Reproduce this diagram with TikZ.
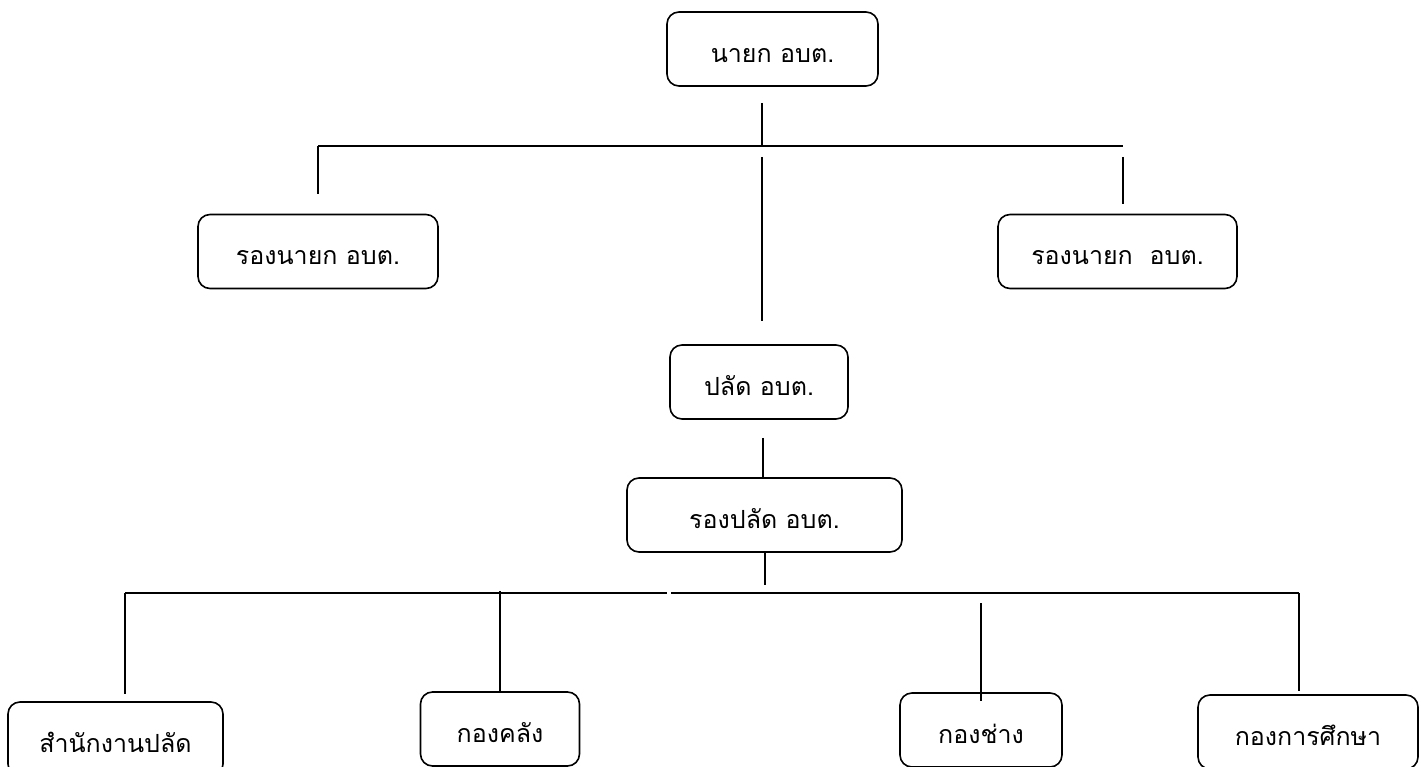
\documentclass[tikz,border=0pt]{standalone}
\usepackage{fontspec}
\newfontfamily\thaifont[Script=Thai]{Loma}
\usetikzlibrary{positioning}

\begin{document}
\begin{tikzpicture}[x=1pt,y=-1pt,line width=1.6pt,font=\thaifont\fontsize{25}{29}\selectfont]
    \tikzstyle{unit}=[draw,rounded corners=12pt,minimum height=74pt,inner sep=0pt,text height=27pt,text depth=0pt]
    \useasboundingbox (0,0) rectangle (1421,767);

    \node[unit,minimum width=211pt] (nayok)     at (772.5,49)   {นายก อบต.};
    \node[unit,minimum width=240pt] (rongnayok) at (318,251.5)  {รองนายก อบต.};
    \node[unit,minimum width=239pt] (rongnayokb) at (1117.5,251.5) {รองนายก~~อบต.};
    \node[unit,minimum width=178pt] (palad)     at (759,382)    {ปลัด อบต.};
    \node[unit,minimum width=275pt] (rongpalad) at (764.5,515)  {รองปลัด อบต.};
    \node[unit,minimum width=215pt] (samnak)    at (115.5,739)  {สำนักงานปลัด};
    \node[unit,minimum width=159pt] (khlang)    at (500,729)    {กองคลัง};
    \node[unit,minimum width=162pt] (chang)     at (981,730)    {กองช่าง};
    \node[unit,minimum width=220pt] (suksa)     at (1308,732)   {กองการศึกษา};

    \coordinate (topbus)  at (762,146);
    \coordinate (topbusl) at (318,146);
    \coordinate (topbusr) at (1123,146);
    \coordinate (midbus)  at (763,478);
    \coordinate (lowbus)  at (765,593);
    \coordinate (lowbusl) at (125,593);
    \coordinate (lowbusr) at (1299,593);
    \coordinate (gapl)    at (667,593);
    \coordinate (gapr)    at (671,593);

    \draw[shorten <=16pt] (nayok.south -| topbus) -- (topbus);
    \draw (topbusl) -- (topbusr);
    \draw[shorten >=20pt] (topbusl) -- (rongnayok.north -| topbusl);
    \draw[shorten <=11pt,shorten >=10pt] (topbusr) -- (rongnayokb.north -| topbusr);
    \draw[shorten <=11pt,shorten >=23pt] (topbus) -- (palad.north -| topbus);
    \draw[shorten <=18pt] (palad.south -| midbus) -- (rongpalad.north -| midbus);
    \draw[shorten >=8pt] (rongpalad.south -| lowbus) -- (lowbus);
    \draw (lowbusl) -- (gapl);
    \draw (gapr) -- (lowbusr);
    \draw[shorten >=7pt] (lowbusl) -- (samnak.north -| lowbusl);
    \draw[shorten <=-2pt] (lowbusl -| khlang.north) -- (khlang.north);
    \draw[shorten <=10pt,shorten >=-9pt] (lowbusl -| chang.north) -- (chang.north);
    \draw[shorten >=3pt] (lowbusr) -- (suksa.north -| lowbusr);
\end{tikzpicture}
\end{document}
